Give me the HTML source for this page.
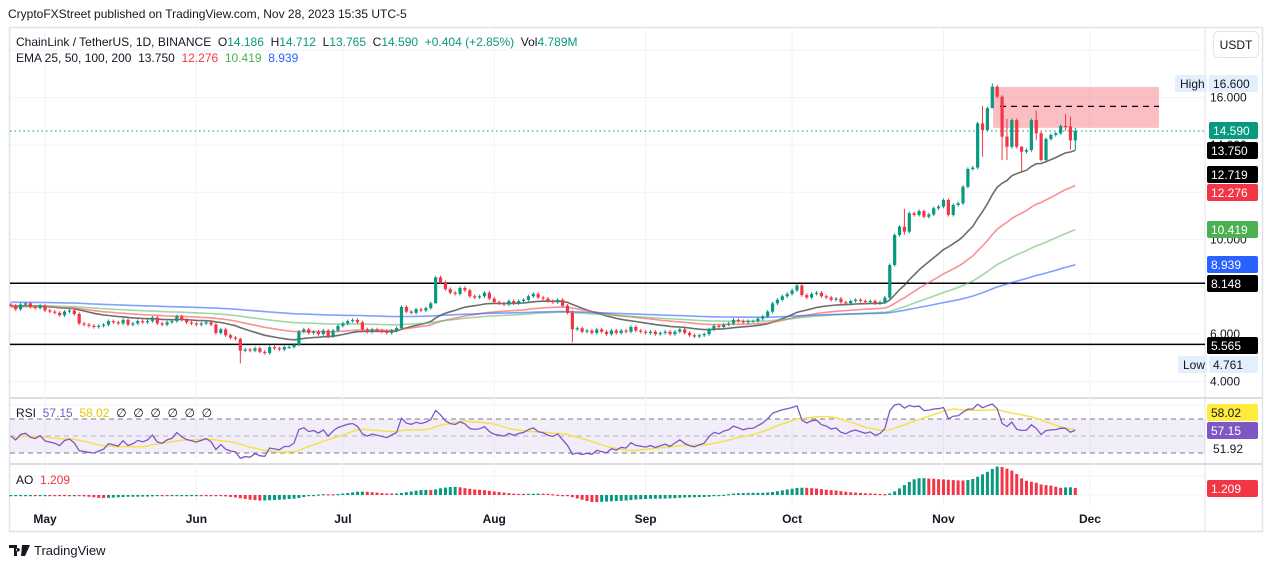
<!DOCTYPE html>
<html><head><meta charset="utf-8"><style>
html,body{margin:0;padding:0;background:#fff;}
body{width:1273px;height:568px;overflow:hidden;font-family:"Liberation Sans",sans-serif;}
svg text{font-family:"Liberation Sans",sans-serif;}
</style></head><body>
<svg id="chart" width="1273" height="568" viewBox="0 0 1273 568" xmlns="http://www.w3.org/2000/svg">
<rect x="0" y="0" width="1273" height="568" fill="#fff"/>
<text x="8" y="18" font-size="12" fill="#131722">CryptoFXStreet published on TradingView.com, Nov 28, 2023 15:35 UTC-5</text>
<rect x="9.5" y="27.5" width="1253" height="504" fill="none" stroke="#e0e3eb" stroke-width="1.5"/>
<line x1="1205" y1="28" x2="1205" y2="531" stroke="#e0e3eb"/>
<line x1="10" y1="398" x2="1262" y2="398" stroke="#d1d4dc" stroke-width="1.5"/>
<line x1="10" y1="464" x2="1262" y2="464" stroke="#d1d4dc" stroke-width="1.5"/>
<g id="grid"></g>
<g id="rsiBand"></g>
<g id="main"></g>
<g id="rsi"></g>
<g id="ao"></g>
<g id="axis"></g>
<g font-size="12">
<text x="16" y="46" fill="#131722">ChainLink / TetherUS, 1D, BINANCE&#160;&#160;O<tspan fill="#089981">14.186</tspan>&#160;&#160;H<tspan fill="#089981">14.712</tspan>&#160;&#160;L<tspan fill="#089981">13.765</tspan>&#160;&#160;C<tspan fill="#089981">14.590</tspan>&#160;&#160;<tspan fill="#089981">+0.404 (+2.85%)</tspan>&#160;&#160;Vol<tspan fill="#089981">4.789M</tspan></text>
<text x="16" y="62" fill="#131722">EMA 25, 50, 100, 200&#160;&#160;13.750&#160;&#160;<tspan fill="#f23645">12.276</tspan>&#160;&#160;<tspan fill="#4caf50">10.419</tspan>&#160;&#160;<tspan fill="#2962ff">8.939</tspan></text>
<text x="16" y="417" fill="#131722">RSI&#160;&#160;<tspan fill="#7e57c2">57.15</tspan>&#160;&#160;<tspan fill="#e6c700">58.02</tspan>&#160;&#160;∅&#160;&#160;∅&#160;&#160;∅&#160;&#160;∅&#160;&#160;∅&#160;&#160;∅</text>
<text x="16" y="484" fill="#131722">AO&#160;&#160;<tspan fill="#f23645">1.209</tspan></text>
</g>
<g><rect x="1213.5" y="31.5" width="45" height="26" rx="5" fill="#fff" stroke="#e0e3eb"/><text x="1236" y="49" font-size="12" text-anchor="middle" fill="#131722">USDT</text></g>
<g>
<path d="M9 545h8v11h-3v-8h-5zM18 548a1.8 1.8 0 1 0 0.01 0zM22 545h8l-5 11h-4z" fill="#131722"/>
<text x="34" y="555" font-size="13" fill="#131722">TradingView</text></g>
</svg>
<script>
// ---- data ----
const closes = [
7.20,7.05,7.25,7.30,7.15,7.10,7.20,
7.00,6.95,6.90,6.80,6.95,7.00,6.85,6.45,6.40,6.35,6.30,6.35,6.40,6.55,6.50,6.45,6.60,6.40,6.45,6.55,6.50,6.55,6.70,6.45,6.40,6.50,6.55,6.75,6.60,6.50,6.45,
6.40,6.45,6.50,6.40,6.05,6.20,5.95,5.85,5.80,5.30,5.35,5.30,5.40,5.25,5.20,5.45,5.40,5.35,5.45,5.45,5.55,6.10,6.20,6.05,6.10,6.00,6.15,5.90,6.15,6.35,
6.45,6.55,6.60,6.50,6.20,6.10,6.20,6.15,6.10,6.05,6.15,6.25,7.15,6.95,6.90,7.05,7.00,7.10,7.30,8.40,8.20,7.90,7.75,7.70,7.95,7.85,7.60,7.55,7.60,7.75,7.50,
7.35,7.30,7.25,7.40,7.30,7.40,7.45,7.60,7.70,7.55,7.50,7.40,7.35,7.45,7.20,6.90,6.20,6.25,6.10,6.15,6.05,6.20,6.10,6.00,6.15,6.05,6.15,6.10,6.30,6.15,6.10,
6.05,6.10,6.00,6.05,6.10,6.00,6.10,6.20,6.05,5.95,5.90,5.95,6.00,6.20,6.35,6.30,6.40,6.45,6.60,6.55,6.50,6.55,6.55,6.65,6.75,6.95,7.30,7.45,7.60,7.70,
7.85,8.05,7.65,7.55,7.70,7.75,7.60,7.55,7.45,7.50,7.35,7.30,7.40,7.45,7.40,7.35,7.40,7.30,7.35,7.54,
8.92,10.19,10.54,10.33,11.11,11.04,11.20,10.96,11.06,11.32,11.39,
11.67,11.04,11.46,11.53,12.23,12.98,13.04,14.91,14.63,15.55,16.46,16.04,14.35,13.92,15.05,13.92,13.71,13.78,15.05,14.49,13.36,14.25,14.42,14.49,14.80,14.78,14.19,14.59];
const firstOpen = 7.25;
const defaultWick = 0.07;
const wickIdx  = [47,   87,   115,  183,  199,  201,  203,  204,  207,  210,  211,  216,  217,  218];
const wickHigh = [5.85, 8.45, 7.00, 11.30,15.65,16.60,16.10,15.10,13.95,15.45,14.60,15.30,15.20,14.712];
const wickLow  = [4.76, 7.30, 5.65, 10.20,13.50,15.90,13.36,13.36,12.87,14.20,13.30,14.60,13.80,13.765];
const emaPeriods = [25,50,100,200];
const emaSeeds = [7.20,7.15,7.20,7.35];
const emaColors = ['rgba(60,60,60,0.75)','rgba(247,100,104,0.7)','rgba(102,187,106,0.6)','rgba(41,98,255,0.6)'];
const priceTicks = [18,16,14,12,10,8,6,4];
const monthLabels = ['May','Jun','Jul','Aug','Sep','Oct','Nov','Dec'];
const monthIdx = [7,38,68,99,130,160,191,221];
const levelLines = [8.148,5.565];
const rsiSeedGain = 0.06, rsiSeedLoss = 0.06;

// ---- scales ----
const X = i => 45 + (i - 7) * 4.883;
const Y = p => 239.5 - (p - 10) * 23.65;
const RY = r => 436 - (r - 50) * 0.85;
const AY = v => 495 - v * 6;
const NS = 'http://www.w3.org/2000/svg';
function mk(tag, attrs, parent){const e=document.createElementNS(NS,tag);for(const k in attrs)e.setAttribute(k,attrs[k]);parent.appendChild(e);return e;}
const grid=document.getElementById('grid'), main=document.getElementById('main'), rsiG=document.getElementById('rsi'), aoG=document.getElementById('ao'), axis=document.getElementById('axis'), band=document.getElementById('rsiBand');

// grid
priceTicks.forEach(p=>{const l=mk('line',{x1:10,x2:1205,y1:Y(p),y2:Y(p),stroke:'#f0f3fa'},grid);

});
monthIdx.forEach(i=>{const l=mk('line',{x1:X(i),x2:X(i),y1:28,y2:505,stroke:'#f0f3fa'},grid);

});
[405,476,495].forEach(y=>{mk('line',{x1:10,x2:1205,y1:y,y2:y,stroke:'#f0f3fa'},grid);});

// price axis tick labels
priceTicks.forEach(p=>{if(p===18)return;const t=mk('text',{x:1210,y:Y(p)+4,'font-size':12,fill:'#131722'},axis);t.textContent=p.toFixed(3);

});
monthLabels.forEach((m,k)=>{const t=mk('text',{x:X(monthIdx[k]),y:523,'font-size':12,'font-weight':'bold',fill:'#131722','text-anchor':'middle'},axis);t.textContent=m;

});

// rsi band
mk('rect',{x:10,y:RY(70),width:1195,height:RY(30)-RY(70),fill:'rgba(126,87,194,0.1)'},band);
[70,50,30].forEach(v=>{const l=mk('line',{x1:10,x2:1205,y1:RY(v),y2:RY(v),stroke:v===50?'#b2b5be':'#787b86','stroke-dasharray':'5,4'},band);

});

// zone rectangle + lines
const zone=mk('rect',{x:993,y:Y(16.45),width:166,height:Y(14.72)-Y(16.45),fill:'rgba(242,54,69,0.32)'},main);


const dl=mk('line',{x1:1000,x2:1159,y1:Y(15.63),y2:Y(15.63),stroke:'#000','stroke-dasharray':'6,5','stroke-width':1.3},main);


levelLines.forEach(p=>{const l=mk('line',{x1:10,x2:1205,y1:Y(p),y2:Y(p),stroke:'#000','stroke-width':1.5},main);

});
const last=closes[closes.length-1];
const pl=mk('line',{x1:10,x2:1205,y1:Y(last),y2:Y(last),stroke:'#089981','stroke-dasharray':'1.5,3'},main);



// EMAs
emaPeriods.forEach((n,k)=>{const a=2/(n+1);let e=emaSeeds[k];let d='';closes.forEach((c,i)=>{e=a*c+(1-a)*e;d+=(i?'L':'M')+X(i).toFixed(1)+' '+Y(e).toFixed(1);});
const p=mk('path',{d:d,fill:'none',stroke:emaColors[k],'stroke-width':1.6},main);

});

// candles
closes.forEach((c,i)=>{const o=i?closes[i-1]:firstOpen;const w=wickIdx.indexOf(i);
const hi=w>=0?wickHigh[w]:Math.max(o,c)+defaultWick, lo=w>=0?wickLow[w]:Math.min(o,c)-defaultWick;
const col=c>=o?'#089981':'#f23645';const g=mk('g',{},main);


mk('line',{x1:X(i),x2:X(i),y1:Y(hi),y2:Y(lo),stroke:col,'stroke-width':1},g);
const t=Y(Math.max(o,c)),h=Math.max(1,Math.abs(Y(o)-Y(c)));
mk('rect',{x:X(i)-1.6,y:t,width:3.2,height:h,fill:col},g);});

// RSI (Wilder, seeded)
const rsi=[];let ag=rsiSeedGain,al=rsiSeedLoss;
closes.forEach((c,i)=>{const ch=i?c-closes[i-1]:0;const g=Math.max(ch,0),l=Math.max(-ch,0);
ag=(ag*13+g)/14;al=(al*13+l)/14;rsi.push(100-100/(1+ag/(al||1e-6)));});
let d1='';rsi.forEach((r,i)=>{d1+=(i?'L':'M')+X(i).toFixed(1)+' '+RY(r).toFixed(1);});
let d2='';rsi.forEach((r,i)=>{const s0=Math.max(0,i-13);let s=0;for(let j=s0;j<=i;j++)s+=rsi[j];d2+=(i?'L':'M')+X(i).toFixed(1)+' '+RY(s/(i-s0+1)).toFixed(1);});
const ys=mk('path',{d:d2,fill:'none',stroke:'#f5e050','stroke-width':1.5},rsiG);


const rl=mk('path',{d:d1,fill:'none',stroke:'#7e57c2','stroke-width':1.3},rsiG);



// AO
const med=closes.map((c,i)=>{const o=i?closes[i-1]:firstOpen;const w=wickIdx.indexOf(i);
const hi=w>=0?wickHigh[w]:Math.max(o,c)+defaultWick, lo=w>=0?wickLow[w]:Math.min(o,c)-defaultWick;return (hi+lo)/2;});
const sma=(n,i)=>{const s=Math.max(0,i-n+1);let t=0;for(let j=s;j<=i;j++)t+=med[j];return t/(i-s+1);};
let prev=null;
med.forEach((m,i)=>{const v=sma(5,i)-sma(34,i);const col=(prev===null||v>=prev)?'#089981':'#f23645';prev=v;
const y0=AY(0),y1=AY(v);const r=mk('rect',{x:X(i)-1.5,y:Math.min(y0,y1),width:3,height:Math.max(1.2,Math.abs(y1-y0)),fill:col},aoG);

});

// price labels
const labels=[
 [1209,75,'16.600','#e3effd','#131722'],[1209,122,'14.590','#089981','#fff'],[1207,142,'13.750','#000','#fff'],
 [1207,166,'12.719','#000','#fff'],[1207,184,'12.276','#f23645','#fff'],[1207,221,'10.419','#4caf50','#fff'],
 [1207,256,'8.939','#2962ff','#fff'],[1207,275,'8.148','#000','#fff'],[1207,337,'5.565','#000','#fff'],
 [1209,356,'4.761','#e3effd','#131722'],[1207,404,'58.02','#ffeb3b','#131722'],[1207,422,'57.15','#7e57c2','#fff'],
 [1207,480,'1.209','#f23645','#fff']];
labels.forEach(a=>{const g=mk('g',{},axis);


mk('rect',{x:a[0],y:a[1],width:1258-a[0],height:17,rx:2,fill:a[3]},g);
const t=mk('text',{x:a[0]+4,y:a[1]+13,'font-size':12,fill:a[4]},g);t.textContent=a[2];});
[[1175,75,'High'],[1178,356,'Low']].forEach(a=>{const g=mk('g',{},axis);


mk('rect',{x:a[0],y:a[1],width:1207-a[0],height:17,fill:'#e3effd'},g);
const t=mk('text',{x:a[0]+5,y:a[1]+13,'font-size':12,fill:'#131722'},g);t.textContent=a[2];});
const t5=mk('text',{x:1213,y:453,'font-size':12,fill:'#131722'},axis);t5.textContent='51.92';


</script>
</body></html>
